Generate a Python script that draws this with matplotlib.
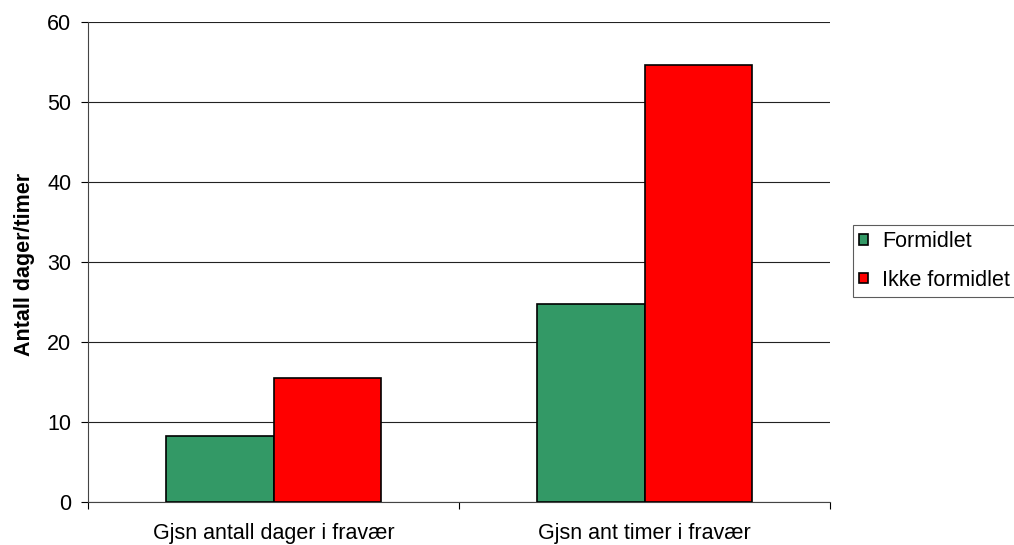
import numpy as np
import matplotlib
matplotlib.use('Agg')
import matplotlib.pyplot as plt

plt.rcParams['font.family'] = ['Liberation Sans', 'DejaVu Sans']

categories = ['Gjsn antall dager i fravær', 'Gjsn ant timer i fravær']
series = ['Formidlet', 'Ikke formidlet']
formidlet = [8.25, 24.75]
ikke_formidlet = [15.55, 54.6]
colors = ['#339966', '#ff0000']

fs = 15.5

fig = plt.figure(figsize=(10.14, 5.45), dpi=100)
ax = fig.add_axes([88/1014, 1-502/545, (830-88)/1014, 480/545])

x = np.arange(len(categories))
w = 0.29
ax.bar(x - w/2, formidlet, w, color=colors[0], edgecolor='black', linewidth=1.2,
       label=series[0], zorder=3)
ax.bar(x + w/2, ikke_formidlet, w, color=colors[1], edgecolor='black', linewidth=1.2,
       label=series[1], zorder=3)

ax.set_xlim(-0.5, len(categories) - 0.5)
ax.set_ylim(0, 60)
ax.set_yticks(np.arange(0, 61, 10))
ax.yaxis.grid(True, color='#222222', linewidth=0.8)
ax.set_axisbelow(True)

ax.set_xticks(x)
ax.set_xticklabels(categories, fontsize=fs)
ax.tick_params(axis='x', length=0, pad=15)
ax.set_xticks([-0.5, 0.5, 1.5], minor=True)
ax.tick_params(axis='x', which='minor', length=5, width=0.8, direction='out')
ax.tick_params(axis='y', labelsize=fs, length=5, width=0.8, direction='out', pad=7)

for s in ['top', 'right']:
    ax.spines[s].set_visible(False)
ax.spines['left'].set_color('#444444')
ax.spines['bottom'].set_color('#444444')

ax.set_ylabel('Antall dager/timer', fontsize=fs, fontweight='bold')
ax.yaxis.set_label_coords(-0.072, 0.495)

leg = ax.legend(loc='upper left', bbox_to_anchor=(853/1014, 1-225/545),
                bbox_transform=fig.transFigure, fontsize=fs,
                frameon=True, fancybox=False, edgecolor='#333333',
                handlelength=0.4, handleheight=0.4, handletextpad=0.65,
                borderpad=0.3, labelspacing=0.8, borderaxespad=0)
leg.get_frame().set_linewidth(0.8)

plt.savefig('out.png', dpi=100)
